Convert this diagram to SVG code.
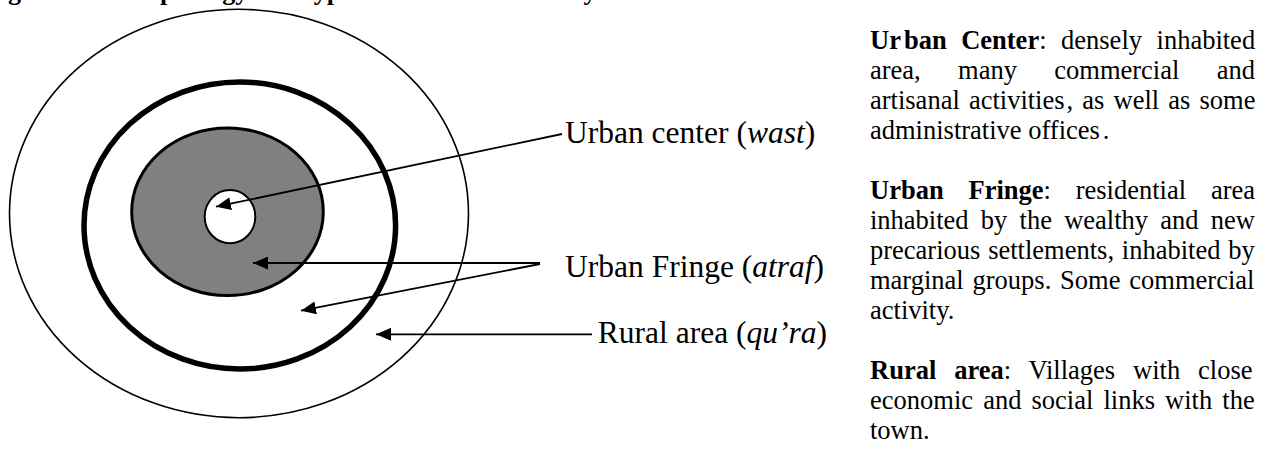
<svg xmlns="http://www.w3.org/2000/svg" width="1267" height="451" viewBox="0 0 1267 451">
  <style>
    .ser { font-family: "Liberation Serif", "Times New Roman", serif; fill: #000; }
    .ttl { font-size: 26px; font-weight: bold; }
    .lbl { font-size: 31.5px; }
    .body { font-size: 26.5px; }
    .b { font-weight: bold; }
    .it { font-style: italic; }
    .ring { stroke: #000; }
    .conn { stroke: #000; stroke-width: 1.8; fill: none; marker-end: url(#ah); }
  </style>
  <defs>
    <marker id="ah" markerUnits="userSpaceOnUse" markerWidth="16" markerHeight="13" refX="15" refY="6.5" orient="auto">
      <path d="M0,0 L15,6.5 L0,13 z" fill="#000"/>
    </marker>
  </defs>
  <rect width="1267" height="451" fill="#fff"/>

  <g id="title">
    <text class="ser ttl" y="0"><tspan x="-15">Figure 1:</tspan><tspan x="111">Morphology and</tspan><tspan x="305">types of zones in the</tspan><tspan x="556">city</tspan></text>
  </g>

  <g id="ring-rural">
    <ellipse class="ring" cx="239" cy="213.5" rx="229.5" ry="204.2" fill="#fff" stroke-width="1.6"/>
  </g>
  <g id="ring-fringe-outer">
    <ellipse class="ring" cx="239.8" cy="225.5" rx="155.8" ry="143.5" fill="none" stroke-width="5.5"/>
  </g>
  <g id="ring-fringe-inner">
    <ellipse class="ring" cx="227.5" cy="211.8" rx="95.8" ry="83.8" fill="#808080" stroke-width="3"/>
  </g>
  <g id="ring-center">
    <ellipse class="ring" cx="230" cy="216.7" rx="25.3" ry="26.6" fill="#fff" stroke-width="2"/>
  </g>

  <g id="connectors">
    <line class="conn" x1="562" y1="134" x2="216" y2="206.7"/>
    <line class="conn" x1="540" y1="263" x2="253" y2="263"/>
    <line class="conn" x1="540" y1="264" x2="301" y2="310.7"/>
    <line class="conn" x1="592" y1="334.3" x2="376" y2="334.3"/>
  </g>

  <g id="label-center">
    <text class="ser lbl" x="565" y="143">Urban center (<tspan class="it">wast</tspan>)</text>
  </g>
  <g id="label-fringe">
    <text class="ser lbl" x="824" y="277" text-anchor="end">Urban Fringe (<tspan class="it">atraf</tspan>)</text>
  </g>
  <g id="label-rural">
    <text class="ser lbl" x="827" y="343" text-anchor="end">Rural area (<tspan class="it">qu’ra</tspan>)</text>
  </g>

  <g id="desc-center">
    <text class="ser body" x="870" y="49" style="word-spacing:7.9px"><tspan class="b">Ur</tspan><tspan class="b" dx="3">ban Center</tspan>: densely inhabited</text>
    <text class="ser body" x="870" y="79" style="word-spacing:30.7px">area, many commercial and</text>
    <text class="ser body" x="870" y="109" style="word-spacing:2.5px">artisanal activities<tspan dx="2">, as well as some</tspan></text>
    <text class="ser body" x="870" y="139">administrative offices<tspan dx="3">.</tspan></text>
  </g>
  <g id="desc-fringe">
    <text class="ser body" x="870" y="199" style="word-spacing:18.2px"><tspan class="b">Urban Fringe</tspan>: residential area</text>
    <text class="ser body" x="870" y="229" style="word-spacing:5.6px">inhabited by the wealthy and new</text>
    <text class="ser body" x="870" y="259" style="word-spacing:1.2px">precarious settlements, inhabited by</text>
    <text class="ser body" x="870" y="289" style="word-spacing:2.2px">marginal groups. Some commercial</text>
    <text class="ser body" x="870" y="319">activity.</text>
  </g>
  <g id="desc-rural">
    <text class="ser body" x="870" y="379" style="word-spacing:11.25px"><tspan class="b">Rural area</tspan>: Villages with close</text>
    <text class="ser body" x="870" y="409" style="word-spacing:3.5px">economic and social links with the</text>
    <text class="ser body" x="870" y="439">town.</text>
  </g>
</svg>
